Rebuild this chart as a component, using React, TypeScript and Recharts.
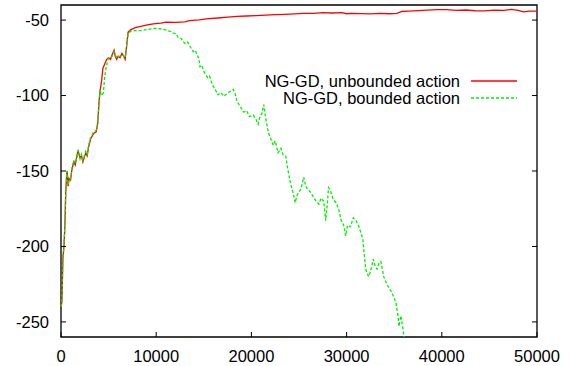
import { LineChart, Line, XAxis, YAxis, ReferenceArea } from "recharts";

// NG-GD, unbounded action
const redX = [
  0, 100, 200, 300, 400, 500, 600, 650, 750, 850, 1000, 1150, 1350, 1500, 1700, 1800, 2000, 2150, 2300,
  2450, 2600, 2750, 2900, 3100, 3260, 3450, 3700, 3850, 4000, 4100, 4250, 4400, 4600, 4800, 5000, 5200,
  5370, 5580, 5700, 5850, 6000, 6200, 6400, 6600, 6740, 6900, 7050, 7300, 7800, 8500, 9200, 9900, 10500,
  11000, 12000, 13000, 13500, 14500, 15500, 16500, 17500, 18500, 19500, 20500, 21500, 22500, 23500,
  24500, 25500, 26500, 27500, 28500, 29500, 30000, 30500, 31500, 32500, 33500, 34500, 35300, 35800,
  36500, 37500, 38500, 39500, 40500, 41500, 42500, 43500, 44500, 45500, 46500, 47300, 48000, 48600,
  49200, 50000,
];
const redY = [
  -241, -236, -208, -201, -188, -164, -152, -150, -160, -155, -156, -149, -144, -146, -139, -137, -141,
  -140, -144, -141, -138, -140, -134, -129, -127, -125, -124, -119, -104, -97, -91, -82, -79, -76, -75,
  -76, -73, -70, -74, -76, -74, -75, -72, -74, -76, -67, -58, -56.5, -55, -54, -53, -52.3, -52, -51.3,
  -51.5, -51.2, -50.3, -49.8, -49, -48.6, -48.1, -47.5, -47.3, -47, -46.7, -46.4, -46.2, -45.9, -45.6,
  -45.5, -45.1, -45.3, -45, -45.8, -45.6, -45.7, -45.9, -45.5, -45.8, -45.5, -44.3, -44, -43.7, -43.4,
  -43.1, -43, -43.5, -43.3, -43.8, -43.9, -43.4, -43.6, -42.9, -43.5, -44.6, -44, -44,
];

// NG-GD, bounded action
const greenX = [
  0, 100, 200, 300, 400, 500, 600, 650, 750, 850, 1000, 1150, 1350, 1500, 1700, 1800, 2000, 2150, 2300,
  2450, 2600, 2750, 2900, 3100, 3260, 3450, 3700, 3850, 4000, 4100, 4200, 4300, 4450, 4600, 4750, 4900,
  5000, 5200, 5370, 5580, 5700, 5850, 6000, 6200, 6400, 6600, 6740, 6900, 7050, 7300, 7800, 8300, 8800,
  9300, 9800, 10100, 10700, 11200, 11500, 11800, 12100, 12300, 12600, 13000, 13300, 13600, 13900, 14100,
  14300, 14500, 14600, 14800, 15000, 15400, 15600, 15900, 16200, 16500, 16800, 17100, 17400, 17700,
  18100, 18300, 18500, 18800, 19200, 19500, 19800, 20200, 20500, 20700, 20900, 21100, 21300, 21500,
  21800, 22000, 22300, 22500, 22800, 23100, 23300, 23600, 23800, 24100, 24400, 24600, 24800, 25000,
  25200, 25500, 25700, 25900, 26200, 26500, 26800, 27100, 27300, 27600, 27800, 28000, 28100, 28300,
  28600, 28900, 29200, 29400, 29700, 29900, 30100, 30400, 30700, 31000, 31300, 31500, 31700, 32000,
  32300, 32500, 32800, 33000, 33200, 33400, 33600, 33900, 34100, 34400, 34700, 35000, 35200, 35400,
  35500, 35700, 35850, 36000, 36200,
];
const greenY = [
  -240, -235, -207, -200, -187, -163, -151, -150, -159, -156, -155, -148, -143, -145, -140, -136, -142,
  -139, -143, -140, -137, -139, -133, -128, -126, -124, -123, -118, -104, -96, -99, -100, -98, -87, -81,
  -77, -75, -75, -74, -71, -73, -75, -74, -74, -73, -74, -75, -66, -59, -57.5, -57, -57, -56.5, -56,
  -55.5, -55.6, -56, -57, -57.5, -58.6, -59, -61.5, -62, -65.5, -64.5, -68, -71, -70, -73, -76, -81,
  -80, -84, -88, -87, -93, -96, -99.5, -98, -100.5, -99, -97.5, -96, -99, -104, -107, -111, -110, -114,
  -113, -116, -119, -114, -112, -106, -115, -125, -128, -133, -130, -138, -135, -139, -140, -148, -158,
  -165, -171, -166, -164, -162, -154, -160, -162, -164, -167, -170, -172, -168, -170, -183, -170, -161,
  -163, -169, -171, -176, -182, -186, -193, -186, -187, -181, -183, -187, -191, -195, -215, -220, -217,
  -208.5, -213, -215, -211, -210, -220, -223, -227, -230, -234, -238, -246, -253, -246, -252, -258, -266,
];

const xTicks = [0, 10000, 20000, 30000, 40000, 50000];
const yTicks = [-250, -200, -150, -100, -50];

const redData = redX.map((x, i) => ({ x, y: redY[i] }));
const greenData = greenX.map((x, i) => ({ x, y: greenY[i] }));

const FONT = "'Liberation Sans', Arial, Helvetica, sans-serif";
const TICK = 5;

// gnuplot style: tick marks point into the plot, labels outside
const BottomTick = (p: any) => (
  <g>
    <line x1={p.x} x2={p.x} y1={p.y} y2={p.y - TICK} stroke="#000" />
    <text x={p.x} y={p.y + 13} dy="0.71em" textAnchor="middle" fontSize={16.5} fontFamily={FONT} fill="#000">
      {p.payload.value}
    </text>
  </g>
);
const TopTick = (p: any) => <line x1={p.x} x2={p.x} y1={p.y} y2={p.y + TICK} stroke="#000" />;
const LeftTick = (p: any) => (
  <g>
    <line x1={p.x} x2={p.x + TICK} y1={p.y} y2={p.y} stroke="#000" />
    <text x={p.x - 12} y={p.y} dy="0.355em" textAnchor="end" fontSize={16.5} fontFamily={FONT} fill="#000">
      {p.payload.value}
    </text>
  </g>
);
const RightTick = (p: any) => <line x1={p.x} x2={p.x - TICK} y1={p.y} y2={p.y} stroke="#000" />;

function LegendBox() {
  return (
    <svg width={570} height={366} style={{ position: "absolute", left: 0, top: 0, pointerEvents: "none" }}>
      <g fontFamily={FONT} fontSize={16.5} fill="#000" textAnchor="end">
        <text x={460} y={87}>NG-GD, unbounded action</text>
        <text x={460} y={104}>NG-GD, bounded action</text>
      </g>
      <line x1={471} x2={517} y1={81} y2={81} stroke="#ff0000" strokeWidth={1.3} />
      <line x1={471} x2={517} y1={98} y2={98} stroke="#00ee00" strokeWidth={1.3} strokeDasharray="3 2" />
    </svg>
  );
}

export default function App() {
  return (
    <div style={{ position: "absolute", left: 0, top: 0, width: 570, height: 366, background: "#fff" }}>
      <LineChart width={570} height={366} margin={{ top: 4, right: 32, bottom: 0, left: 0 }}>
        <XAxis
          xAxisId="b"
          dataKey="x"
          type="number"
          domain={[0, 50000]}
          ticks={xTicks}
          orientation="bottom"
          height={29}
          tickSize={0}
          tickMargin={0}
          tick={BottomTick}
          axisLine={false}
          tickLine={false}
          interval={0}
        />
        <XAxis
          xAxisId="t"
          dataKey="x"
          type="number"
          domain={[0, 50000]}
          ticks={xTicks}
          orientation="top"
          height={1}
          tickSize={0}
          tickMargin={0}
          tick={TopTick}
          axisLine={false}
          tickLine={false}
          interval={0}
        />
        <YAxis
          yAxisId="l"
          type="number"
          domain={[-260, -40]}
          ticks={yTicks}
          allowDataOverflow
          orientation="left"
          width={61}
          tickSize={0}
          tickMargin={0}
          tick={LeftTick}
          axisLine={false}
          tickLine={false}
          interval={0}
        />
        <YAxis
          yAxisId="r"
          type="number"
          domain={[-260, -40]}
          ticks={yTicks}
          allowDataOverflow
          orientation="right"
          width={1}
          tickSize={0}
          tickMargin={0}
          tick={RightTick}
          axisLine={false}
          tickLine={false}
          interval={0}
        />
        <Line
          xAxisId="b"
          yAxisId="l"
          data={redData}
          dataKey="y"
          type="linear"
          stroke="#ff0000"
          strokeWidth={1.3}
          dot={false}
          isAnimationActive={false}
        />
        <Line
          xAxisId="b"
          yAxisId="l"
          data={greenData}
          dataKey="y"
          type="linear"
          stroke="#00ee00"
          strokeWidth={1.3}
          strokeDasharray="3 2"
          dot={false}
          isAnimationActive={false}
        />
        <ReferenceArea
          xAxisId="b"
          yAxisId="l"
          x1={0}
          x2={50000}
          y1={-260}
          y2={-40}
          fill="none"
          stroke="#000"
          strokeWidth={1.3}
          strokeOpacity={1}
          ifOverflow="visible"
        />
      </LineChart>
      <LegendBox />
    </div>
  );
}
